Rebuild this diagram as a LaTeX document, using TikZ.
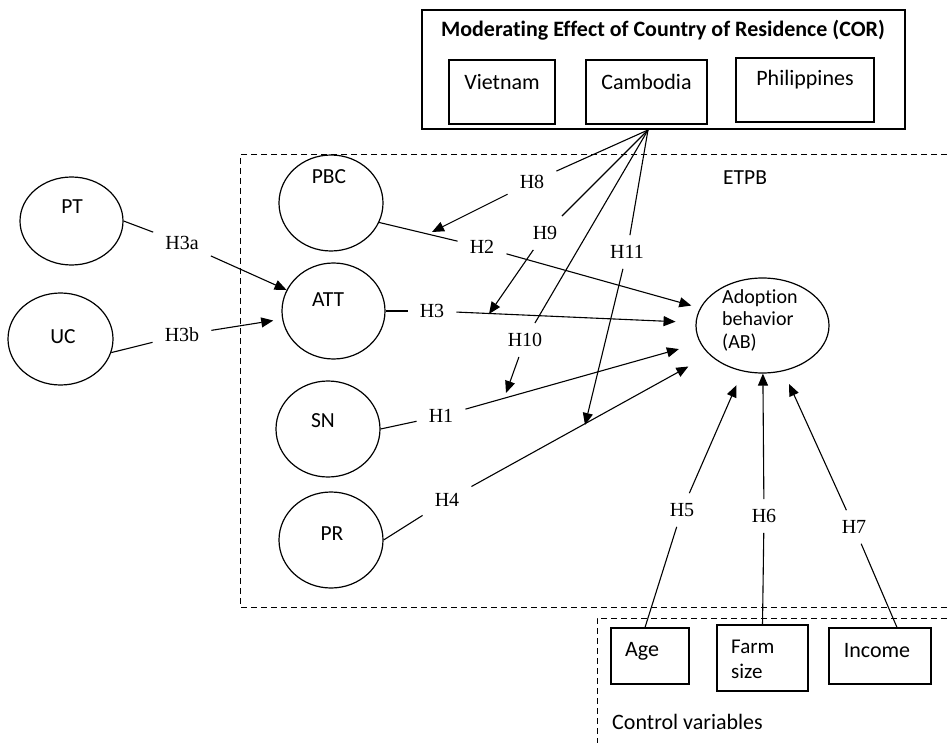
\documentclass[tikz,border=0pt]{standalone}
\usepackage{fontspec}
\setmainfont{Carlito}[Ligatures=NoCommon]
\newfontfamily\tnr{Liberation Serif}
\usetikzlibrary{shapes.geometric,arrows.meta}
\begin{document}
\begin{tikzpicture}[x=1pt,y=-1pt,
  ell/.style={draw,line width=1.2pt,ellipse,inner sep=0pt},
  txt/.style={font=\fontsize{21.5}{25}\selectfont,inner sep=0pt},
  btxt/.style={font=\fontsize{22}{26}\selectfont,inner sep=0pt},
  box/.style={draw,line width=1.1pt,inner sep=0pt},
  hyp/.style={font=\tnr\fontsize{20}{24}\selectfont,inner xsep=12pt,inner ysep=10pt},
  conn/.style={line width=1.1pt},
  arr/.style={line width=1.1pt,-{Triangle[length=12pt,width=10pt]}},
  dbox/.style={line width=1pt,dash pattern=on 6pt off 4pt}
]
\useasboundingbox (0,0) rectangle (947,743);

% region boxes
\draw[dbox] (947,155) -- (240,155) -- (240,607) -- (947,607);
\draw[dbox] (947,618) -- (597,618) -- (597,743);
\node[txt,anchor=west] (etpb) at (723,178) {ETPB};
\node[btxt,anchor=west] (ctrl) at (612,722) {Control variables};

% COR box
\node[box,minimum width=483pt,minimum height=119pt] (COR) at (663.5,69.5) {};
\node[txt,font=\bfseries\fontsize{22}{26}\selectfont] (CORt) at (663,30) {Moderating Effect of Country of Residence (COR)};
\node[box,minimum width=106pt,minimum height=64pt] (VN) at (502,92) {};
\node[btxt] (VNt) at (502,82) {Vietnam};
\node[box,minimum width=121pt,minimum height=64pt] (KH) at (646.5,92) {};
\node[btxt] (KHt) at (646.5,82) {Cambodia};
\node[box,minimum width=138pt,minimum height=64pt] (PH) at (805,90) {};
\node[btxt] (PHt) at (805,80) {Philippines};
\coordinate (O) at (648,130);

% ellipses
\node[ell,minimum width=103pt,minimum height=88pt] (PT) at (71.5,221) {};
\node[txt] (PTt) at (72,207) {PT};
\node[ell,minimum width=105pt,minimum height=92pt] (UC) at (60.5,339) {};
\node[txt] (UCt) at (63,337) {UC};
\node[ell,minimum width=104pt,minimum height=96pt] (PBC) at (331,203) {};
\node[txt] (PBCt) at (329,177) {PBC};
\node[ell,minimum width=103pt,minimum height=96pt] (ATT) at (333.5,311) {};
\node[txt] (ATTt) at (328,300) {ATT};
\node[ell,minimum width=104pt,minimum height=96pt] (SN) at (328,429) {};
\node[txt] (SNt) at (323,421) {SN};
\node[ell,minimum width=104pt,minimum height=96pt] (PR) at (331,540) {};
\node[txt] (PRt) at (332,534) {PR};
\node[ell,minimum width=133pt,minimum height=95pt] (AB) at (762.5,325.5) {};
\node[txt,font=\fontsize{20}{22.5}\selectfont,align=left,anchor=north west] (ABt) at (722,289) {Adoption\\behavior\\(AB)};

% control boxes
\node[box,minimum width=78pt,minimum height=56pt] (Age) at (650,656) {};
\node[btxt] (Aget) at (642,651) {Age};
\node[box,minimum width=91pt,minimum height=66pt] (Farm) at (762.5,658) {};
\node[btxt,align=left,anchor=west,font=\fontsize{21}{25}\selectfont] (Farmt) at (731,659) {Farm\\size};
\node[box,minimum width=102pt,minimum height=56pt] (Inc) at (880,656) {};
\node[btxt] (Inct) at (877,651) {Income};

% hypothesis labels
\node[hyp] (H3a) at (182,243) {H3a};
\node[hyp] (H3b) at (182,335) {H3b};
\node[hyp] (H2) at (482,247) {H2};
\node[hyp] (H3) at (432,311) {H3};
\node[hyp] (H1) at (441,416) {H1};
\node[hyp] (H4) at (447,500) {H4};
\node[hyp] (H5) at (682,510) {H5};
\node[hyp] (H6) at (764,516) {H6};
\node[hyp] (H7) at (854,527) {H7};
\node[hyp] (H8) at (532,182) {H8};
\node[hyp] (H9) at (545,233) {H9};
\node[hyp] (H10) at (525,340) {H10};
\node[hyp] (H11) at (627,252) {H11};

% direct paths
\draw[conn] (PT.east) -- (H3a);
\draw[arr] (H3a) -- (ATT);
\draw[conn] (UC.-15) -- (H3b);
\draw[arr,shorten >=9pt] (H3b) -- (ATT);
\draw[conn] (PBC.-22) -- (H2);
\draw[arr,shorten >=9pt] (H2) -- (AB);
\draw[conn] (ATT.east) -- (H3);
\draw[arr,shorten >=20pt] (H3) -- (AB);
\draw[conn] (SN.east) -- (H1);
\draw[arr,shorten >=22pt] (H1) -- (AB);
\draw[conn] (PR.east) -- (H4);
\draw[arr,shorten >=24pt] (H4) -- (AB);
\draw[conn] ([xshift=-5pt]Age.north) -- (H5);
\draw[arr,shorten >=15pt] (H5) -- (AB);
\draw[conn] (Farm.north) -- (H6);
\draw[arr] (H6) -- (AB);
\draw[conn] ([xshift=17pt]Inc.north) -- (H7);
\draw[arr,shorten >=14pt] (H7) -- (AB);

% moderating paths
\coordinate (m8) at (432,232);
\coordinate (m9) at (489,314);
\coordinate (m10) at (506,393);
\coordinate (m11) at (585,425);
\draw[conn] (O) -- (H8);
\draw[arr] (H8) -- (m8);
\draw[conn] (O) -- (H9);
\draw[arr] (H9) -- (m9);
\draw[conn] (O) -- (H10);
\draw[arr] (H10) -- (m10);
\draw[conn] (O) -- (H11);
\draw[arr] (H11) -- (m11);
\end{tikzpicture}
\end{document}
